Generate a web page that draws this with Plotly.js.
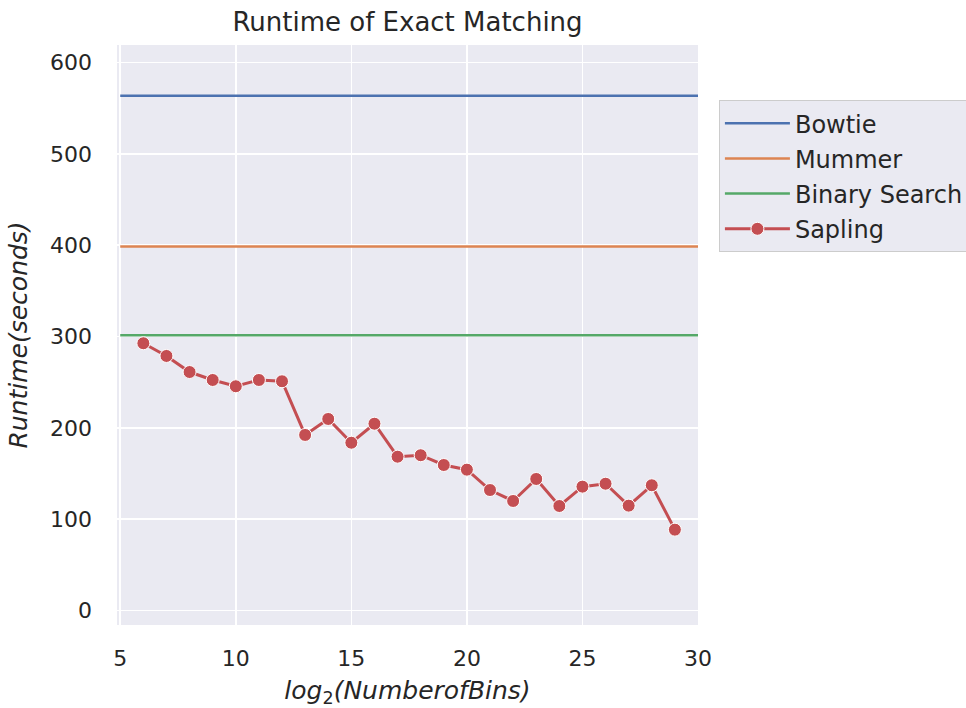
<!DOCTYPE html>
<html>
<head>
<meta charset="utf-8">
<script src="https://cdn.plot.ly/plotly-3.0.1.min.js"></script>
<style>html,body{margin:0;padding:0;background:#fff;}</style>
</head>
<body>
<div id="chart" style="width:966px;height:708px;"></div>
<script>
const xRange = [5, 30];
const bowtieValue = 563.7;
const mummerValue = 398.5;
const binaryValue = 301.5;
const saplingX = [6,7,8,9,10,11,12,13,14,15,16,17,18,19,20,21,22,23,24,25,26,27,28,29];
const saplingY = [292.6,278.7,261.1,252.4,245.5,252.4,251,192.2,209.7,183.7,204.5,168.4,170,159.3,154.2,131.9,119.9,144,114.4,135.6,138.8,114.8,137.1,88.5];

const font = "DejaVu Sans, sans-serif";
const traces = [
  {x: xRange, y: [bowtieValue, bowtieValue], name: 'Bowtie', mode: 'lines', legendgroup: 'a',
   line: {color: '#4c72b0', width: 2.5}},
  {x: xRange, y: [mummerValue, mummerValue], name: 'Mummer', mode: 'lines', legendgroup: 'b',
   line: {color: '#dd8452', width: 2.5}},
  {x: xRange, y: [binaryValue, binaryValue], name: 'Binary Search', mode: 'lines', legendgroup: 'c',
   line: {color: '#55a868', width: 2.5}},
  {x: saplingX, y: saplingY, name: 'Sapling', mode: 'lines+markers', legendgroup: 'd',
   line: {color: '#c44e52', width: 3},
   marker: {color: '#c44e52', size: 13, line: {color: '#ffffff', width: 1}}}
];

const layout = {
  width: 966, height: 708,
  margin: {l: 117, r: 268, t: 45, b: 83, autoexpand: false},
  paper_bgcolor: '#ffffff',
  plot_bgcolor: '#eaeaf2',
  font: {family: font, color: '#262626', size: 22},
  title: {text: 'Runtime of Exact Matching', x: 0.5, xref: 'paper', y: 0.969, yref: 'container',
          yanchor: 'middle', font: {family: font, size: 26, color: '#262626'}},
  xaxis: {
    range: [4.86, 30.0], tickvals: [5,10,15,20,25,30], ticks: '', showline: false,
    gridcolor: '#ffffff', gridwidth: 1.6, zeroline: false,
    ticklabelstandoff: 18,
    tickfont: {size: 22, color: '#262626'},
    title: {text: '<i>log</i><sub>2</sub><i>(NumberofBins)</i>', font: {size: 25, color: '#262626'}, standoff: 12}
  },
  yaxis: {
    range: [-15.9, 619.2], tickvals: [0,100,200,300,400,500,600], ticks: '', showline: false,
    gridcolor: '#ffffff', gridwidth: 1.6, zeroline: false,
    ticklabelstandoff: 24,
    tickfont: {size: 22, color: '#262626'},
    title: {text: '<i>Runtime(seconds)</i>', font: {size: 25, color: '#262626'}, standoff: 15}
  },
  showlegend: true,
  legend: {
    x: 1.036, xanchor: 'left', y: 0.905, yanchor: 'top',
    bgcolor: '#eaeaf2', bordercolor: '#cccccc', borderwidth: 1,
    font: {size: 24, color: '#262626', family: font},
    tracegroupgap: 1, itemwidth: 65
  }
};

Plotly.newPlot('chart', traces, layout, {displayModeBar: false, staticPlot: true});
</script>
</body>
</html>
